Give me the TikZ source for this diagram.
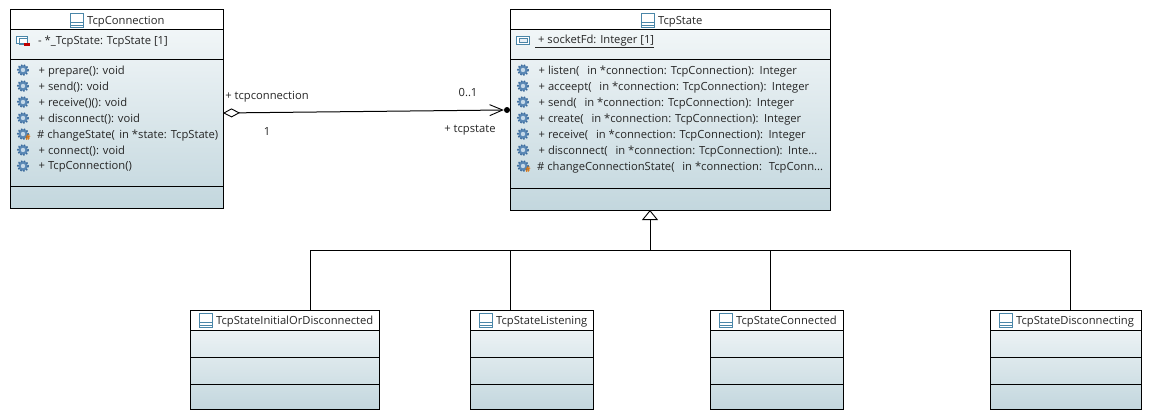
\documentclass[tikz,border=0pt]{standalone}
\usepackage{fontspec}
\setmainfont{Open Sans}
\usetikzlibrary{arrows.meta,calc}
\definecolor{ink}{HTML}{262626}
\definecolor{gearD}{HTML}{3A6A9C}
\definecolor{gearM}{HTML}{5A88B5}
\definecolor{gearL}{HTML}{C4D8E8}
\definecolor{iconB}{HTML}{4A86A8}
\definecolor{shadeT}{HTML}{F6F9FA}
\definecolor{shadeB}{HTML}{C3D7DE}
\tikzset{
  classbody/.style={draw=black,line width=1pt,top color=shadeT,bottom color=shadeB,anchor=north west,inner sep=0pt,outer sep=0pt},
  classhead/.style={draw=black,line width=1pt,fill=white,anchor=north west,inner sep=0pt,outer sep=0pt},
  rowtext/.style={anchor=west,inner sep=0pt,yshift=-1.2pt,text=ink,font=\fontsize{11.2}{13}\selectfont},
  titletext/.style={anchor=west,inner sep=0pt,yshift=-1.2pt,text=ink,font=\fontsize{11.2}{13}\selectfont},
  lbl/.style={anchor=center,inner sep=0pt,yshift=-1pt,text=ink,font=\fontsize{11.2}{13}\selectfont},
  sep/.style={line width=1pt,black},
  conn/.style={line width=1pt,black}
}
\newcommand{\umlbox}[6]{% name x0 y0 x1 y1 (header bottom)
  \node[classbody,minimum width=#4pt-#2pt,minimum height=#5pt-#3pt] (#1) at (#2,#3) {};
  \node[classhead,minimum width=#4pt-#2pt,minimum height=#6pt-#3pt] (#1head) at (#2,#3) {};
}
\newcommand{\classicon}[2]{% x y (centre)
  \draw[iconB,line width=.8pt,fill=white] (#1-6.5,#2-7) rectangle (#1+6.5,#2+7);
  \draw[iconB,line width=.8pt] (#1-6.5,#2+1.5) -- (#1+6.5,#2+1.5) (#1-6.5,#2+4.5) -- (#1+6.5,#2+4.5);
}
\newcommand{\gearicon}[2]{%
  \fill[gearM] (#1,#2) circle (4.8);
  \draw[gearD,line width=1.5pt,dash pattern=on 1.5pt off 1.6pt] (#1,#2) circle (5.2);
  \fill[gearL] (#1,#2) circle (2.2);
}
\newcommand{\protgear}[2]{%
  \gearicon{#1}{#2}
  \node[inner sep=0pt,text=orange!85!black,font=\bfseries\fontsize{8}{8}\selectfont] at (#1+5,#2+3.5) {\#};
}
\newcommand{\attricon}[2]{%
  \draw[iconB,line width=.8pt,fill=white] (#1-6.5,#2-4) rectangle (#1+6.5,#2+4);
  \draw[iconB,line width=.6pt,fill=gearL!40] (#1-4,#2-2) rectangle (#1+4,#2+2);
}
\newcommand{\privicon}[2]{%
  \draw[iconB,line width=.8pt,fill=white] (#1-6.5,#2-4) rectangle (#1+4,#2+3);
  \draw[iconB,line width=.6pt] (#1-4,#2-2) rectangle (#1+4,#2+4);
  \fill[red!75!black] (#1+1,#2+3) rectangle (#1+7,#2+6);
}
\newcommand{\gapin}{\ \ \hspace{2pt}}
\begin{document}
\begin{tikzpicture}[x=1pt,y=-1pt]
\useasboundingbox (0,0) rectangle (1152,420);
\fill[white] (0,0) rectangle (1152,420);

% TcpConnection
\umlbox{tconn}{10}{10}{223}{208}{30}
\draw[sep] (10,60) -- (223,60) (10,186) -- (223,186);
\classicon{76.5}{20.5}
\node[titletext] (tconnT) at (87,20.5) {TcpConnection};
\privicon{23}{40}
\node[rowtext] (tconnA) at (38,40) {- *\_TcpState: TcpState [1]};
\foreach \yy/\tt/\nn in {70/{+ prepare(): void}/a,86/{+ send(): void}/b,102/{+ receive()(): void}/c,118/{+ disconnect(): void}/d,150/{+ connect(): void}/e,166/{+ TcpConnection()}/f}{
  \gearicon{23}{\yy}
  \node[rowtext] (tconnO\nn) at (38.5,\yy) {\tt};
}
\protgear{23}{134}
\node[rowtext] (tconnOg) at (37,134) {\# changeState(\ \hspace{1.5pt}in *state: TcpState)};

% TcpState
\umlbox{tstate}{510}{10}{830}{210}{30}
\draw[sep] (510,60) -- (830,60) (510,188) -- (830,188);
\classicon{647.5}{20.5}
\node[titletext] (tstateT) at (658,20.5) {TcpState};
\attricon{523}{40}
\node[rowtext] (tstateA) at (535,40) {$\underline{\hbox{\ +\ socketFd: Integer [1]}}$};
\foreach \yy/\tt/\nn in {70/{+ listen(\gapin in *connection: TcpConnection):\hspace{1.5pt} Integer}/a,86/{+ acceept(\gapin in *connection: TcpConnection):\hspace{1.5pt} Integer}/b,102/{+ send(\gapin in *connection: TcpConnection):\hspace{1.5pt} Integer}/c,118/{+ create(\gapin in *connection: TcpConnection):\hspace{1.5pt} Integer}/d,134/{+ receive(\gapin in *connection: TcpConnection):\hspace{1.5pt} Integer}/e,150/{+ disconnect(\gapin in *connection: TcpConnection):\hspace{1.5pt} Inte...}/f}{
  \gearicon{523}{\yy}
  \node[rowtext] (tstateO\nn) at (538.5,\yy) {\tt};
}
\protgear{523}{166}
\node[rowtext] (tstateOg) at (537,166) {\# changeConnectionState(\gapin in *connection:\hspace{3pt} TcpConn...};

% Subclasses
\foreach \nn/\xa/\xb/\ttl in {cinit/190/379/TcpStateInitialOrDisconnected,clist/470/593/TcpStateListening,cconn/710/843/TcpStateConnected,cdisc/990/1141/TcpStateDisconnecting}{
  \umlbox{\nn}{\xa}{310}{\xb}{409}{330}
  \draw[sep] (\xa,357) -- (\xb,357) (\xa,384) -- (\xb,384);
  \classicon{\xa+16}{320.5}
  \node[titletext] (\nn T) at (\xa+26,320.5) {\ttl};
}

% Association
\node[circle,fill=black,inner sep=0pt,minimum size=6pt] (assocdot) at (507,110) {};
\draw[conn,{Diamond[open,length=17pt,width=9pt,line width=.9pt,fill=white]}-{Straight Barb[length=13pt,width=11pt,line width=.9pt]}]
  ([yshift=-4pt]tconn.east) -- (assocdot.west);
\node[lbl] (lconn) at (267,96) {+ tcpconnection};
\node[lbl] (lone) at (267,131) {1};
\node[lbl] (lmul) at (468,92) {0..1};
\node[lbl] (lstate) at (470,129) {+ tcpstate};

% Generalization
\coordinate (busT) at (650,250);
\coordinate (busA) at (310,250);
\coordinate (busB) at (510,250);
\coordinate (busC) at (770,250);
\coordinate (busD) at (1070,250);
\draw[conn,-{Triangle[open,length=10pt,width=16pt,line width=.9pt,fill=white]}] (busT) -- (busT |- tstate.south);
\draw[conn] (busA) -- (busD);
\draw[conn] (busA) -- (busA |- cinit.north);
\draw[conn] (busB) -- (busB |- clist.north);
\draw[conn] (busC) -- (busC |- cconn.north);
\draw[conn] (busD) -- (busD |- cdisc.north);
\end{tikzpicture}
\end{document}
